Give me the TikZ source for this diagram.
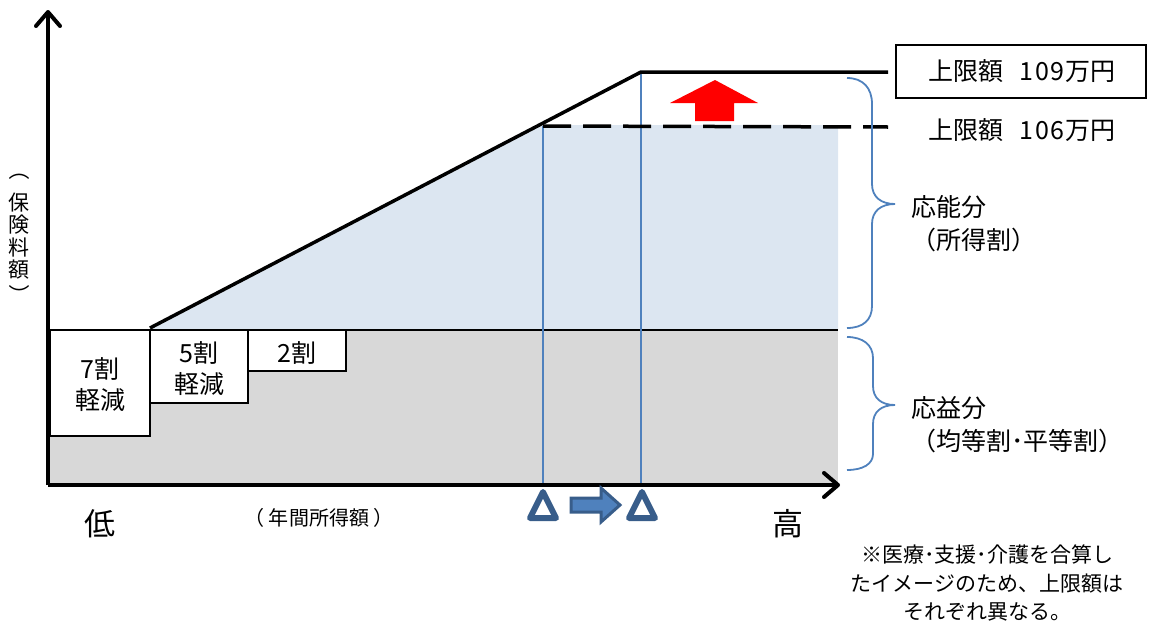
\documentclass[tikz,border=0pt]{standalone}
\usepackage{fontspec}
\setmainfont{Noto Sans CJK JP}
\usetikzlibrary{arrows.meta}
\definecolor{axisblue}{RGB}{79,129,189}
\definecolor{darkblue}{RGB}{56,93,138}
\definecolor{areablue}{RGB}{220,230,241}
\definecolor{areagray}{RGB}{216,216,216}
\newcommand{\dg}[1]{\kern1pt#1\kern1pt}
\tikzset{
  axis/.style={line width=4pt,-{Straight Barb[length=14pt,width=24pt,line cap=round,line join=round]}},
  stepbox/.style={draw=black,line width=2.5pt,fill=white},
  boxlabel/.style={align=center,font=\fontsize{25}{31}\selectfont,inner sep=0pt},
  lbl/.style={font=\fontsize{25}{33}\selectfont,inner sep=0pt},
  ylbl/.style={font=\fontsize{21}{22.5}\selectfont,align=center,inner sep=0pt},
  bluev/.style={draw=axisblue,line width=1.5pt},
  bracestyle/.style={draw=axisblue,line width=1.8pt},
  tri/.style={draw=darkblue,line width=6pt,line join=round,fill=white},
}
\begin{document}
\begin{tikzpicture}[x=1pt,y=-1pt]
\useasboundingbox (0,0) rectangle (1151,624);
% areas
\fill[areagray] (50,330) rectangle (838,483);
\fill[areablue] (150,330) -- (543,125) -- (838,125) -- (838,330) -- cycle;
% coordinates
\coordinate (o) at (48,485);
\coordinate (ytop) at (48,10);
\coordinate (xend) at (840,485);
\coordinate (s0) at (150,328);
\coordinate (s1) at (543,126);
\coordinate (s2) at (641,72);
\coordinate (l1end) at (888,72);
\coordinate (l2end) at (888,127);
\coordinate (b0) at (48,330);
\coordinate (b1) at (838,330);
% horizontal base line
\draw[line width=2.5pt] (b0) -- (b1);
% step boxes
\draw[stepbox] (50,330) rectangle (150,436);
\draw[stepbox] (150,330) rectangle (248,403);
\draw[stepbox] (248,330) rectangle (346,371);
\node[boxlabel] (r7) at (100,385) {7割\\軽減};
\node[boxlabel] (r5) at (199,369) {5割\\軽減};
\node[boxlabel] (r2) at (297,353) {2割};
% blue vertical lines
\coordinate (v1b) at (543,485);
\coordinate (v2b) at (641,485);
\draw[bluev] (s1) -- (v1b);
\draw[bluev] (s2) -- (v2b);
% slope and limits
\draw[line width=3.5pt,line join=round] (s0) -- (s2) -- (l1end);
\draw[line width=3.5pt,dash pattern=on 28pt off 12pt] (s1) -- (l2end);
% axes
\draw[axis] (o) -- (ytop);
\draw[axis] (o) -- (xend);
% red arrow
\fill[red] (715,80) -- (758,103) -- (734,103) -- (734,121) -- (695,121) -- (695,103) -- (670,103) -- cycle;
% triangles
\draw[tri] (543,492) -- (556,518) -- (530,518) -- cycle;
\draw[tri] (642,492) -- (655,518) -- (629,518) -- cycle;
% block arrow
\draw[draw=darkblue,fill=axisblue,line width=3pt,line join=miter] (571,498) -- (601,498) -- (601,488) -- (620,505) -- (601,522) -- (601,512) -- (571,512) -- cycle;
% limit labels
\node[draw=black,line width=2pt,minimum width=250pt,minimum height=53pt,inner sep=0pt] (lim109) at (1021,71) {};
\node[lbl] (t109) at (1022,71) {上限額\hspace{0.6em}\dg{1}\dg{0}\dg{9}万円};
\node[lbl] (t106) at (1022,130) {上限額\hspace{0.6em}\dg{1}\dg{0}\dg{6}万円};
% braces
\draw[bracestyle] (847,78) .. controls (863,78) and (872,88) .. (872,104) -- (872,184) .. controls (872,197) and (881,204) .. (895,204) .. controls (881,204) and (872,211) .. (872,224) -- (872,306) .. controls (872,320) and (863,328) .. (847,328);
\draw[bracestyle] (847,337) .. controls (863,337) and (873,345) .. (873,358) -- (873,386) .. controls (873,398) and (881,405) .. (895,405) .. controls (881,405) and (873,412) .. (873,424) -- (873,454) .. controls (873,464) and (863,470) .. (847,470);
\node[lbl,anchor=west,align=left] (ono) at (911,224) {応能分\\（所得割）};
\node[lbl,anchor=west,align=left] (oeki) at (911,425) {応益分\\（均等割･平等割）};
% axis labels
\node[ylbl,rotate=-90] (ylp) at (19,170) {（};
\node[ylbl] (ylab) at (19,236) {保\\険\\料\\額};
\node[ylbl,rotate=-90] (yrp) at (19,295) {）};
\node[font=\fontsize{31}{36}\selectfont,inner sep=0pt] (low) at (100,524) {低};
\node[font=\fontsize{31}{36}\selectfont,inner sep=0pt] (high) at (788,524) {高};
\node[font=\fontsize{20}{24}\selectfont,inner sep=0pt] (xlab) at (319,518) {（ 年間所得額 ）};
% note
\node[font=\fontsize{21}{28.5}\selectfont,align=center,inner sep=0pt] (note) at (987,583) {※医療･支援･介護を合算し\\たイメージのため、上限額は\\それぞれ異なる。};
\end{tikzpicture}
\end{document}
